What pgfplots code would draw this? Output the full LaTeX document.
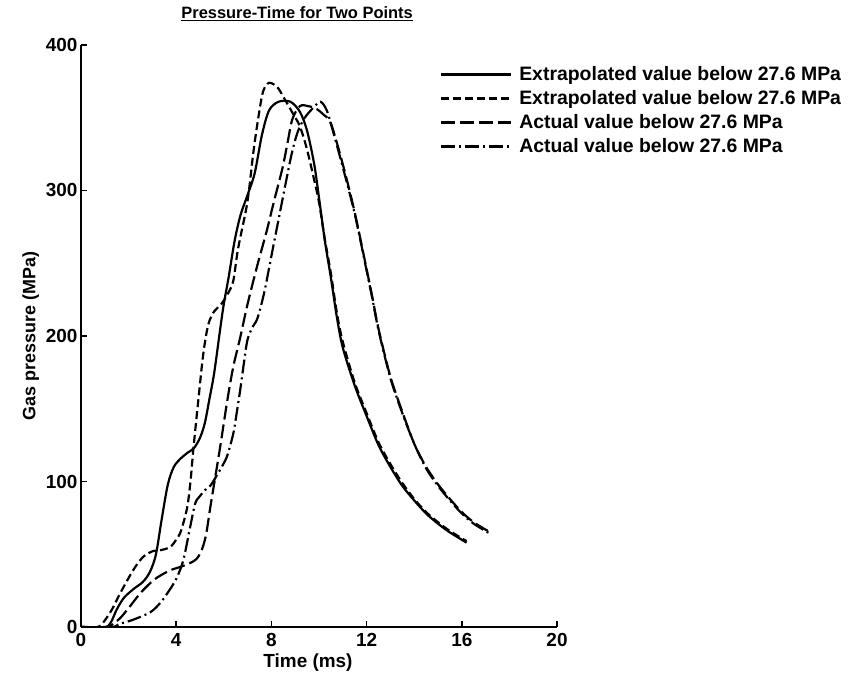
\documentclass[border=0pt]{standalone}
\usepackage{fontspec}
\setmainfont{Liberation Sans}
\usepackage{pgfplots}
\pgfplotsset{compat=1.18}
\begin{document}
\begin{tikzpicture}
\useasboundingbox (-81bp,-60bp) rectangle (777bp,627bp);
\begin{axis}[
  at={(0,0)}, anchor=south west,
  scale only axis, width=476bp, height=582bp,
  xmin=0, xmax=20, ymin=0, ymax=400,
  axis lines=left, axis line style={-, line width=2pt},
  xtick={0,4,...,20}, ytick={0,100,...,400},
  tick align=inside, major tick length=6bp,
  tick style={line width=1.5pt, black},
  /pgf/number format/assume math mode=true,
  ticklabel style={font=\fontsize{19}{22}\selectfont\bfseries},
  xticklabel style={yshift=-3bp},
  xlabel={Time (ms)}, ylabel={Gas pressure (MPa)},
  xlabel style={font=\fontsize{19}{22}\selectfont\bfseries, xshift=-11bp},
  ylabel style={font=\fontsize{18}{21}\selectfont\bfseries},
  title={\underline{Pressure-Time for Two Points}},
  title style={at={(axis description cs:0.454,1.043)}, anchor=center, font=\fontsize{16.5}{19}\selectfont\bfseries},
  legend style={at={(axis description cs:0.754,0.97)}, anchor=north west, draw=none, fill=none,
    font=\fontsize{19.5}{22}\selectfont\bfseries, row sep=4.5bp, inner xsep=0pt,
    /tikz/every odd column/.style={column sep=5bp}},
  legend cell align=left,
  legend image code/.code={\draw[#1] (0bp,0bp) -- (70bp,0bp);},
  every axis plot/.append style={line width=2.2pt, black, no marks, smooth, tension=0.5},
]
% Extrapolated 1 (solid)
\addplot[black, solid] coordinates {(0,0)(1.0,0)(1.25,3)(1.5,12)(1.8,20)(2.2,26)(2.6,31)(2.9,38)(3.15,50)(3.4,75)(3.65,98)(3.9,110)(4.2,116)(4.5,120)(4.75,123)(5.0,130)(5.2,140)(5.4,157)(5.6,175)(5.85,205)(6.0,222)(6.2,240)(6.45,265)(6.7,283)(7.0,297)(7.3,312)(7.6,338)(7.9,355)(8.3,361)(8.8,361)(9.2,354)(9.5,341)(9.8,318)(10.0,295)(10.25,265)(10.5,240)(10.75,213)(11.0,192)(11.5,166)(12.0,145)(12.5,125)(13.0,110)(13.5,97)(14.0,87)(14.5,78)(15.0,71)(15.5,65)(16.2,58)};
\addlegendentry{Extrapolated value below 27.6 MPa}
% Extrapolated 2 (short dashes)
\addplot[black, dash pattern=on 8pt off 4pt] coordinates {(0,0)(0.7,0)(0.93,3)(1.3,12)(1.64,23)(2.19,39)(2.6,48)(3.0,52)(3.4,53)(3.75,55)(4.0,60)(4.2,66)(4.46,82)(4.6,100)(4.72,122)(4.93,156)(5.14,188)(5.35,208)(5.6,217)(5.9,222)(6.2,230)(6.4,238)(6.6,260)(6.99,292)(7.24,326)(7.45,350)(7.65,368)(7.9,374)(8.25,371)(8.55,363)(8.9,353)(9.2,344)(9.5,328)(9.8,307)(10.0,292)(10.25,266)(10.5,243)(10.75,216)(11.0,196)(11.5,168)(12.0,147)(12.5,127)(13.0,112)(13.5,99)(14.0,88)(14.5,79)(15.0,72)(15.5,66)(16.2,59)};
\addlegendentry{Extrapolated value below 27.6 MPa}
% Actual 1 (long dashes)
\addplot[black, dash pattern=on 14pt off 5pt] coordinates {(0,0)(1.1,0)(1.4,3)(1.64,6)(2.0,13)(2.48,23)(2.9,30)(3.2,34)(3.75,39)(4.3,42)(4.8,46)(5.05,52)(5.25,63)(5.43,82)(5.64,103)(5.85,124)(6.15,156)(6.4,179)(6.69,199)(7.0,222)(7.4,248)(7.8,272)(8.1,292)(8.46,315)(8.67,332)(8.88,349)(9.2,358)(9.55,358)(9.9,356)(10.2,352)(10.5,346)(11.0,318)(11.5,285)(12.0,246)(12.25,226)(12.5,205)(13.0,172)(13.5,148)(14.0,126)(14.5,110)(15.0,98)(15.5,88)(16.0,79)(16.5,72)(17.2,65)};
\addlegendentry{Actual value below 27.6 MPa}
% Actual 2 (dash-dot)
\addplot[black, dash pattern=on 14pt off 4pt on 2pt off 4pt] coordinates {(0,0)(1.3,0)(1.6,2)(2.19,5)(2.9,10)(3.3,16)(3.62,23)(4.0,33)(4.3,46)(4.59,69)(4.8,85)(5.0,90)(5.2,94)(5.43,97)(5.7,104)(5.98,112)(6.15,118)(6.4,133)(6.55,148)(6.69,163)(6.85,182)(6.99,197)(7.2,206)(7.41,212)(7.7,230)(8.0,255)(8.3,280)(8.6,305)(8.85,325)(9.1,340)(9.4,350)(9.77,357)(10.06,361)(10.3,356)(10.5,346)(11.0,316)(11.5,284)(12.0,245)(12.25,225)(12.5,204)(13.0,171)(13.5,147)(14.0,126)(14.5,109)(15.0,97)(15.5,87)(16.0,78)(16.5,71)(17.2,64)};
\addlegendentry{Actual value below 27.6 MPa}
\end{axis}
\end{tikzpicture}
\end{document}
